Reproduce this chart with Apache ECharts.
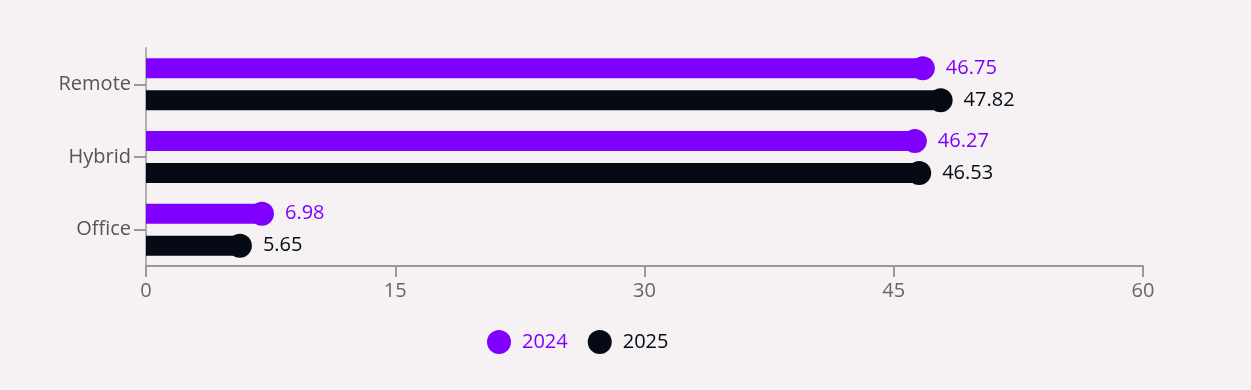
<!DOCTYPE html>
<html><head><meta charset="utf-8">
<script src="https://cdn.jsdelivr.net/npm/echarts@6/dist/echarts.min.js"></script>
<style>html,body{margin:0;padding:0;background:#f6f2f4;}#c{width:1251px;height:390px;}</style>
</head><body><div id="c"></div>
<script>
const categories = ['Remote', 'Hybrid', 'Office'];
const values2024 = [46.75, 46.27, 6.98];
const values2025 = [47.82, 46.53, 5.65];
const xTicks = [0, 15, 30, 45, 60];
const seriesNames = ['2024', '2025'];
const colors = ['#8000ff', '#050a14'];

const font = "'Segoe UI', 'Open Sans', 'Noto Sans', sans-serif";
const chart = echarts.init(document.getElementById('c'));
const mk = (name, data, color, off) => [
  { name, type: 'bar', data, barWidth: 20, barGap: '60%', itemStyle: { color }, z: 2 },
  { name, type: 'scatter', data: data.map((v, i) => [v, categories[i]]), symbol: 'circle', symbolSize: 24,
    symbolOffset: [0, off], itemStyle: { color, opacity: 1 }, z: 3,
    label: { show: true, position: 'right', distance: 11, color, fontSize: 20, fontFamily: font,
      formatter: p => p.value[0].toFixed(2) } }
];
chart.setOption({
  backgroundColor: '#f6f2f4',
  animation: false,
  grid: { left: 146, right: 108, top: 48, bottom: 124 },
  legend: {
    data: seriesNames.map((n, i) => ({ name: n, textStyle: { color: colors[i] } })),
    icon: 'circle', itemWidth: 24, itemHeight: 24, itemGap: 20,
    left: 482, top: 325,
    textStyle: { fontSize: 20, fontFamily: font, padding: [0, 0, 0, 6] }
  },
  xAxis: {
    type: 'value', min: xTicks[0], max: xTicks[xTicks.length - 1], interval: 15,
    axisLine: { show: true, lineStyle: { color: '#999', width: 2 } },
    axisTick: { show: true, length: 11, lineStyle: { color: '#999', width: 2 } },
    axisLabel: { color: '#666', fontSize: 20, fontFamily: font, margin: 15 },
    splitLine: { show: false }
  },
  yAxis: {
    type: 'category', data: categories, inverse: true,
    axisLine: { show: true, lineStyle: { color: '#b0b0b0', width: 2 } },
    axisTick: { show: true, alignWithLabel: true, length: 12, lineStyle: { color: '#999', width: 2 } },
    axisLabel: { color: '#555', fontSize: 20, fontFamily: font, margin: 15 }
  },
  series: [...mk(seriesNames[0], values2024, colors[0], -16), ...mk(seriesNames[1], values2025, colors[1], 16)]
});
</script></body></html>
